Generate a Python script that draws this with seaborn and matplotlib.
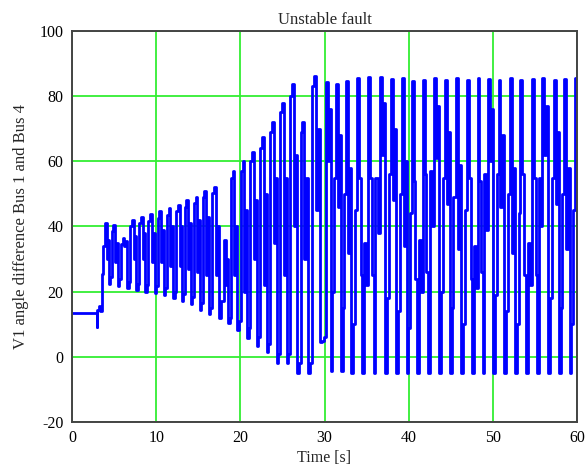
import matplotlib
matplotlib.use("Agg")
import matplotlib.pyplot as plt
import seaborn as sns
import pandas as pd

# Pre-fault steady state and the fault instant (time [s], angle [deg])
pre_t = [0.0, 2.95, 3.0, 3.05, 3.3, 3.45, 3.6, 3.8]
pre_v = [13.5, 13.5, 9.3, 14.5, 15.5, 14.0, 25.5, 34.0]

# Swing peaks after the fault
peak_t = [4.05, 5.0, 6.15, 7.26, 8.3, 9.4, 10.5, 11.6, 12.7, 13.7, 14.8, 15.8,
          17.0, 18.2, 19.2, 20.4, 21.5, 22.7, 23.9, 25.05, 26.3, 27.5, 28.9,
          30.3, 31.5, 32.7, 34.0, 35.3, 36.7, 38.0, 39.3, 40.5, 41.8, 43.1,
          44.4, 45.7, 47.1, 48.3, 49.6, 50.8, 52.2, 53.4, 54.8, 56.0, 57.4,
          58.6, 59.95]
peak_v = [41.0, 40.6, 36.5, 42.0, 43.0, 43.8, 44.6, 45.6, 46.6, 48.0, 49.2, 51.0,
          52.2, 36.0, 57.0, 60.0, 63.0, 67.5, 72.2, 78.0, 83.7, 72.0, 86.2,
          84.2, 83.7, 84.5, 85.5, 86.0, 85.8, 85.3, 85.5, 84.5, 85.0, 85.5,
          85.0, 85.5, 85.0, 85.5, 85.3, 85.0, 85.5, 85.0, 85.3, 85.5, 85.0,
          85.3, 85.5]

# Per swing (between consecutive peaks): two samples on the way down,
# the trough, and two samples on the way back up
fall_a = [30, 29, 34, 30, 30, 29, 29, 28, 28, 27, 26, 25, 25,
          22,
          25, 20, 30, 22, 35, 25, 40, 30,
          45,
          60, 46, 32, 55, 55, 62, 48, 34, 54, 56, 61, 47, 33, 55, 54, 60, 46,
          32, 56, 55, 62, 47, 33]
fall_b = [36, 35, 35.5, 37, 38, 38, 39, 40, 40, 41, 42, 43, 40,
          30,
          40, 45, 48, 50, 55, 55, 62, 55,
          70,
          76, 68, 58, 25, 25, 78, 70, 60, 24, 26, 77, 69, 59, 24, 26, 76, 68,
          58, 25, 25, 77, 69, 58]
trough_v = [22.5, 21.8, 21.0, 20.5, 20.0, 19.6, 19.0, 18.0, 17.2, 16.3, 14.5,
            13.0, 12.0,
            10.4,
            8.3, 5.8, 3.4, 1.5, -1.8, -2.0, -5.0, -5.0,
            4.7,
            -4.5, -4.5, -5, -5, -5, -5, -5, -5, -5, -5, -5, -5, -5, -5, -5, -5,
            -5, -5, -5, -5, -5, -5, -5]
rise_c = [24.5, 23.8, 23, 22.5, 22, 21.6, 21, 20, 19.2, 18.3, 16.5, 15, 17,
          12,
          11, 9, 6, 4, 1, 1, -2, -2,
          5,
          20, 15, 10, 35, 55, 18, 14, 9, 36, 57, 20, 15, 10, 34, 56, 19, 14,
          10, 35, 55, 18, 15, 10]
rise_d = [38.6, 34.5, 40, 41, 41.8, 42.6, 43.6, 44.6, 46, 47.2, 49, 50.2, 17,
          55,
          57, 60, 64, 69, 75, 80, 69, 83,
          6,
          55, 50, 45, 22, 38, 56, 50, 44, 20, 40, 55, 49, 45, 21, 39, 56, 50,
          44, 22, 40, 55, 50, 45]

# Where each sample sits inside one swing, as a share of the swing length
phase = [0.0, 0.15, 0.30, 0.45, 0.62, 0.80]

t_all = list(pre_t)
v_all = list(pre_v)
for i in range(len(peak_t) - 1):
    t0, t1 = peak_t[i], peak_t[i + 1]
    vals = [peak_v[i], fall_a[i], fall_b[i], trough_v[i], rise_c[i], rise_d[i]]
    for f, v in zip(phase, vals):
        t_all.append(t0 + f * (t1 - t0))
        v_all.append(v)
t_all.append(peak_t[-1])
v_all.append(peak_v[-1])

df = pd.DataFrame({"Time [s]": t_all, "angle": v_all})

sns.set_style("white")
plt.rcParams["font.family"] = ["Liberation Serif", "DejaVu Serif"]
plt.rcParams["axes.unicode_minus"] = False

fig = plt.figure(figsize=(5.86, 4.68), dpi=100)
ax = fig.add_axes([0.1229, 0.0983, 0.8618, 0.8355])

# Sampled simulation output: held between samples, so edges draw vertical
sns.lineplot(data=df, x="Time [s]", y="angle", sort=False, estimator=None,
             color="#0000ff", linewidth=2.0, drawstyle="steps-mid",
             ax=ax, zorder=3)

ax.set_xlim(0, 60)
ax.set_ylim(-20, 100)
ax.set_xticks([0, 10, 20, 30, 40, 50, 60])
ax.set_yticks([-20, 0, 20, 40, 60, 80, 100])
ax.grid(True, color="#33ee33", linewidth=1.3, zorder=1)
ax.set_axisbelow(True)
ax.tick_params(length=0, labelsize=11.5, pad=6, colors="black")
for s in ax.spines.values():
    s.set_color("#444444")
    s.set_linewidth(1.4)
    s.set_zorder(4)

ax.set_title("Unstable fault", fontsize=12, pad=5)
ax.set_xlabel("Time [s]", fontsize=11.5, labelpad=3)
ax.set_ylabel("V1 angle difference Bus 1 and Bus 4", fontsize=12, labelpad=8)

fig.savefig("out.png", dpi=100, facecolor="white")
